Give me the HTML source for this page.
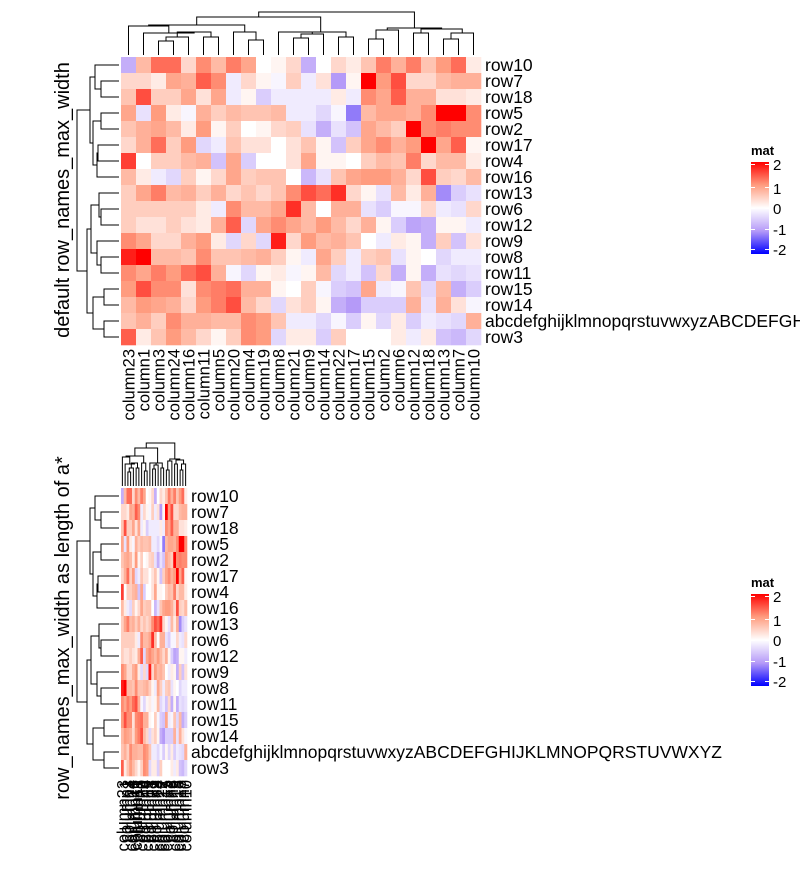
<!DOCTYPE html>
<html><head><meta charset="utf-8">
<style>
body{margin:0;background:#fff;}
svg text{font-family:"Liberation Sans",sans-serif;}
</style></head>
<body>
<svg id="chart" width="806" height="865" xmlns="http://www.w3.org/2000/svg">
<defs>
<linearGradient id="lg" x1="0" y1="0" x2="0" y2="1">
<stop offset="0" stop-color="#FF0000"/><stop offset="0.25" stop-color="#FF9C7F"/><stop offset="0.5" stop-color="#FFFFFF"/><stop offset="0.75" stop-color="#B59AF8"/><stop offset="1" stop-color="#0000FF"/>
</linearGradient>
<clipPath id="clipTop"><rect x="0" y="0" width="800" height="865"/></clipPath>
</defs>
<text transform="translate(69,200) rotate(-90)" text-anchor="middle" font-size="20">default row_names_max_width</text>
<text transform="translate(69,628) rotate(-90)" text-anchor="middle" font-size="20">row_names_max_width as length of a*</text>
<g id="topHm" clip-path="url(#clipTop)"></g>
<g id="botHm"></g>
<g>
<text x="751" y="155" font-size="13" font-weight="bold">mat</text>
<rect x="751" y="162" width="18" height="92" fill="url(#lg)"/>
<g fill="#fff"><rect x="751" y="164" width="4" height="1"/><rect x="765" y="164" width="4" height="1"/><rect x="751" y="187" width="4" height="1"/><rect x="765" y="187" width="4" height="1"/><rect x="751" y="208" width="4" height="1"/><rect x="765" y="208" width="4" height="1"/><rect x="751" y="229" width="4" height="1"/><rect x="765" y="229" width="4" height="1"/><rect x="751" y="249" width="4" height="1"/><rect x="765" y="249" width="4" height="1"/></g>
<g font-size="15"><text x="773" y="170">2</text><text x="773" y="194">1</text><text x="773" y="214">0</text><text x="773" y="235">-1</text><text x="773" y="255">-2</text></g>
</g>
<g transform="translate(0,432)">
<text x="751" y="155" font-size="13" font-weight="bold">mat</text>
<rect x="751" y="162" width="18" height="92" fill="url(#lg)"/>
<g fill="#fff"><rect x="751" y="164" width="4" height="1"/><rect x="765" y="164" width="4" height="1"/><rect x="751" y="187" width="4" height="1"/><rect x="765" y="187" width="4" height="1"/><rect x="751" y="208" width="4" height="1"/><rect x="765" y="208" width="4" height="1"/><rect x="751" y="229" width="4" height="1"/><rect x="765" y="229" width="4" height="1"/><rect x="751" y="249" width="4" height="1"/><rect x="765" y="249" width="4" height="1"/></g>
<g font-size="15"><text x="773" y="170">2</text><text x="773" y="194">1</text><text x="773" y="214">0</text><text x="773" y="235">-1</text><text x="773" y="255">-2</text></g>
</g>
</svg>
<script>
const rowNames=["row10","row7","row18","row5","row2","row17","row4","row16","row13","row6","row12","row9","row8","row11","row15","row14","abcdefghijklmnopqrstuvwxyzABCDEFGHIJKLMNOPQRSTUVWXYZ","row3"];
const colNames=["column23","column1","column3","column24","column16","column11","column5","column20","column4","column19","column8","column21","column9","column14","column22","column17","column15","column2","column6","column12","column18","column13","column7","column10"];
const values=[
[-0.8,0.7,1.3,1.3,0.4,1.1,0.7,1.2,0.9,0,0.1,0.4,-0.8,0,0.4,0.2,0.6,1.2,0.8,1.2,0.6,1.0,1.3,0.2],
[0.4,0.4,0.2,0.9,0.8,1.4,1.1,-0.2,0.4,0.1,-0.1,0.5,-0.2,0.3,-1.0,0.1,2.0,1.0,1.5,0.4,0.4,0.7,0.8,0.8],
[0.6,1.5,0.5,0.5,0.9,0.3,0.9,-0.2,0.1,-0.5,-0.2,-0.2,-0.2,-0.2,0.2,-0.2,1.1,0.9,1.4,0.8,0.8,0.3,0.3,0.2],
[0.9,-0.3,1.0,0.2,-0.1,0.8,0.5,0.7,0.6,0.6,0.7,-0.2,-0.2,-0.4,-0.1,-1.2,0.7,0.9,0.9,0.8,1.1,2.0,2.0,1.1],
[0.6,0.8,0.9,0.7,0.2,1.0,0.1,0.5,0,0.1,0.4,0.5,-0.3,-0.8,-0.3,-0.6,0.9,0.7,0.5,2.0,1.1,1.2,1.1,1.1],
[0.4,0.8,1.3,0.5,1.0,-0.4,-0.2,0.6,0.3,0.3,0,0.3,0.6,0.1,-0.6,0.5,0.9,1.1,0.8,1.0,2.0,0.9,1.4,0.1],
[1.6,0,0.5,0.5,0.7,0.8,-0.6,0.9,-0.5,0,0,0.3,0.9,0.1,0.1,0,0.5,0.7,0.6,1.2,0.4,0.7,0.7,0.2],
[0.7,0.2,-0.2,-0.4,0.5,0.1,0.4,0.9,0.5,0.6,0.6,0,-0.7,-0.3,0.6,0.9,1.0,1.0,0.8,0.4,1.5,0.5,0.4,0.7],
[0.5,0.9,1.2,0.7,0.8,0.5,0.8,0.4,0.6,0.4,0.6,1.1,1.5,1.3,1.7,0.4,0.1,-0.3,0.7,0.2,0.8,-1.1,-0.5,-0.3],
[0.5,0.5,0.5,0.5,0.5,0.2,-0.2,1.1,0.7,0.7,0.9,1.7,0.7,0,0.8,0.8,-0.3,-0.5,-0.1,-0.1,0.4,-0.2,-0.3,0.4],
[0.5,0.3,0.3,0.5,0.3,0.2,0.8,1.4,-0.4,0.9,1.1,0.9,0.7,1.0,0.7,0.4,0.8,0.1,-0.5,-0.9,-0.8,0.1,0.1,-0.2],
[1.1,0.9,0.4,0.4,0.8,1.0,0.2,-0.4,0.4,-0.4,1.8,0.4,1.0,0.7,0.8,0.6,0,-0.2,0.2,0.1,-0.8,0.5,-0.6,0.3],
[1.8,2.0,0.7,0.7,0.6,1.1,0.6,0.6,0.7,0.8,0.5,0.1,-0.2,0.9,0.5,-0.2,0.5,0.6,-0.3,0.1,0,-0.4,-0.2,-0.2],
[1.1,0.9,1.2,1.0,1.3,1.5,0.8,-0.1,-0.4,0.1,0.2,-0.1,0.1,0.7,-0.4,-0.2,-0.6,0.4,-0.8,0.1,-0.8,-0.3,-0.4,-0.3],
[1.0,1.5,1.1,1.1,0.3,1.1,1.2,1.3,0.8,0.8,0.1,0,0.5,-0.1,-0.5,-0.6,0.9,-0.2,-0.1,0.6,-0.4,0.7,-0.8,-0.5],
[0.7,1.0,0.9,0.8,0.4,1.0,1.2,1.5,0.7,0.4,-0.4,0.3,0.5,0.1,-0.8,-1.0,-0.5,-0.5,-0.5,0.8,-0.3,0.8,0.3,-0.1],
[0.6,0.8,0.5,1.1,0.8,0.8,0.7,0.7,1.1,1.0,0.6,-0.2,-0.2,-0.4,-0.1,-0.5,0.1,-0.4,0.2,-0.5,-0.2,-0.3,-0.4,0.8],
[1.4,0.2,0.6,1.0,0.7,0.4,0.1,0.5,1.1,1.0,-0.4,0.2,0.2,-0.5,0.5,0,0,0,0.2,-0.2,0.2,-0.6,-0.7,-0.4]
];
const legendTicks=[2,1,0,-1,-2];
const colTree=[12,[17,[25,[26,0,[33,1,[32,[37,[41,2,3],4],[37,5,6]]]],[32,7,[40,8,9]]],[32,[32,10,[34,[38,11,12],13]],[37,14,15]]],[28,[30,[39,16,17],18],[29,[33,19,20],[33,[39,21,22],23]]]];
const rowTree=[77,[90,[95,0,[101,1,2]],[93,[101,3,4],[97,[98,5,6],7]]],[87,[91,[99,8,[101,9,10]],[97,11,[101,12,13]]],[93,[104,14,15],[104,16,17]]]];

const stops=[[-2,[0,0,255]],[-1,[181,154,248]],[0,[255,255,255]],[1,[255,156,127]],[2,[255,0,0]]];
function col(v){v=Math.max(-2,Math.min(2,v));for(let i=0;i<4;i++){const a=stops[i],b=stops[i+1];if(v<=b[0]){const t=(v-a[0])/(b[0]-a[0]);const c=a[1].map((x,k)=>Math.round(x+(b[1][k]-x)*t));return `rgb(${c.join(',')})`;}}return 'rgb(255,0,0)';}
const NS="http://www.w3.org/2000/svg";
function el(t,a,p){const e=document.createElementNS(NS,t);for(const k in a)e.setAttribute(k,a[k]);p.appendChild(e);return e;}

function draw(g,o){
 const x0=o.x0,y0=o.y0,cw=o.cw,rh=16;
 const xs=j=>x0+cw*j, ys=i=>y0+rh*i;
 values.forEach((r,i)=>r.forEach((v,j)=>{
  const c=el('rect',{x:xs(j),y:ys(i),width:cw+0.3,height:rh+0.3,fill:col(v)},g);
  
  
 }));
 rowNames.forEach((n,i)=>{const t=el('text',{x:xs(24)+4,y:ys(i)+rh/2+6,'font-size':17.5},g);t.textContent=n;
  
  });
 colNames.forEach((n,j)=>{const t=el('text',{transform:`translate(${xs(j)+cw/2+6},${ys(18)+4}) rotate(-90)`,'text-anchor':'end','font-size':16.5},g);t.textContent=n;
  
  });
 const leafY=y0-2, dy=o.dy;
 function cd(n){if(typeof n==='number')return [xs(n)+cw/2,leafY];
  const a=cd(n[1]),b=cd(n[2]),h=n[0]+dy;
  el('path',{d:`M${a[0]},${a[1]}V${h}H${b[0]}V${b[1]}`,fill:'none',stroke:'#000','stroke-width':1},g);
  return [(a[0]+b[0])/2,h];}
 cd(colTree);
 const leafX=x0-2;
 function rd(n){if(typeof n==='number')return [leafX,ys(n)+rh/2];
  const a=rd(n[1]),b=rd(n[2]),h=n[0];
  el('path',{d:`M${a[0]},${a[1]}H${h}V${b[1]}H${b[0]}`,fill:'none',stroke:'#000','stroke-width':1},g);
  return [h,(a[1]+b[1])/2];}
 rd(rowTree);
}
const topG=document.getElementById('topHm');


draw(topG,{x0:121,y0:57,cw:15,dy:0});
const botG=document.getElementById('botHm');


draw(botG,{x0:121,y0:488,cw:66/24,dy:431});
</script>
</body></html>
